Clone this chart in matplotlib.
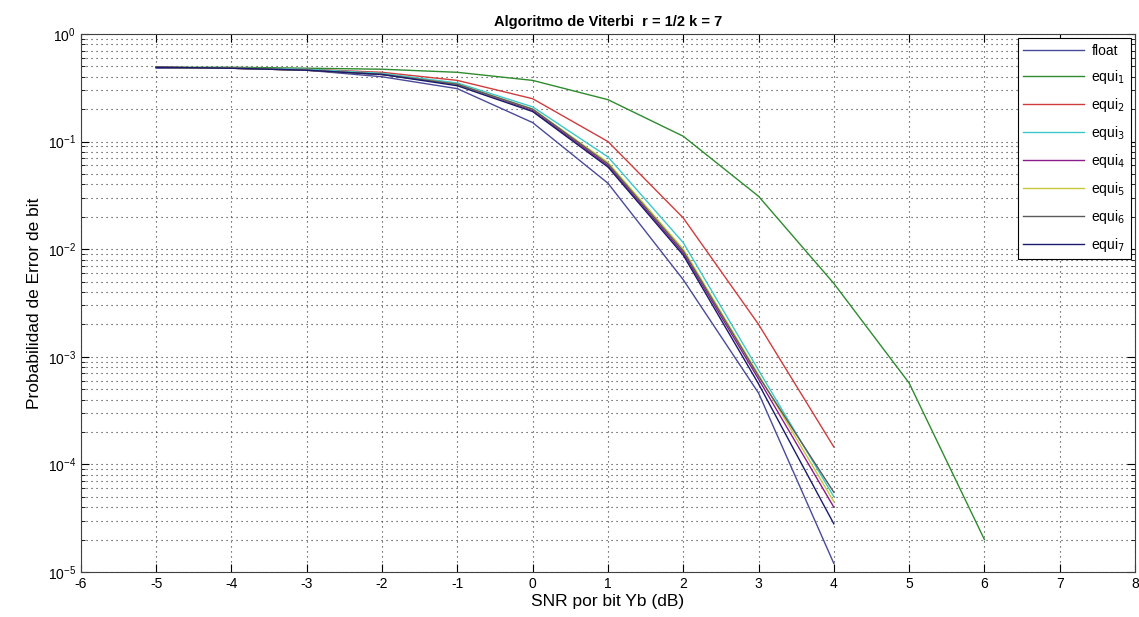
import matplotlib
matplotlib.use("Agg")
import matplotlib.pyplot as plt
from matplotlib.ticker import LogLocator, NullFormatter

plt.rcParams['font.family'] = ['Liberation Sans', 'DejaVu Sans']
plt.rcParams['axes.unicode_minus'] = False

# valeurs
snr = [-5, -4, -3, -2, -1, 0, 1, 2, 3, 4]
snr_equi1 = [-5, -4, -3, -2, -1, 0, 1, 2, 3, 4, 5, 6]

ber_float = [0.48, 0.48, 0.46, 0.40, 0.31, 0.15, 0.041, 0.0052, 4.6e-4, 1.2e-5]
ber_equi1 = [0.49, 0.49, 0.48, 0.47, 0.44, 0.37, 0.245, 0.112, 0.031, 0.0048, 5.7e-4, 2e-5]
ber_equi2 = [0.49, 0.48, 0.47, 0.44, 0.37, 0.25, 0.10, 0.0195, 0.002, 1.45e-4]
ber_equi3 = [0.49, 0.48, 0.47, 0.43, 0.35, 0.21, 0.072, 0.0115, 7.5e-4, 5e-5]
ber_equi4 = [0.49, 0.48, 0.46, 0.42, 0.34, 0.195, 0.060, 0.0092, 6.2e-4, 4e-5]
ber_equi5 = [0.49, 0.48, 0.46, 0.42, 0.34, 0.20, 0.064, 0.0100, 6.8e-4, 4.5e-5]
ber_equi6 = [0.49, 0.48, 0.46, 0.42, 0.34, 0.20, 0.062, 0.0096, 6.6e-4, 5.5e-5]
ber_equi7 = [0.49, 0.48, 0.46, 0.42, 0.33, 0.19, 0.058, 0.0088, 5.6e-4, 2.8e-5]

fig = plt.figure(figsize=(11.39, 6.17), dpi=100)
ax = fig.add_axes([0.071, 0.073, 0.9255, 0.872])

ax.semilogy(snr, ber_float, color="#4a4a9a", lw=1, label="float")
ax.semilogy(snr_equi1, ber_equi1, color="#2e8b2e", lw=1, label="equi$_1$")
ax.semilogy(snr, ber_equi2, color="#d03c3c", lw=1, label="equi$_2$")
ax.semilogy(snr, ber_equi3, color="#3cc8c8", lw=1, label="equi$_3$")
ax.semilogy(snr, ber_equi4, color="#8b1a8b", lw=1, label="equi$_4$")
ax.semilogy(snr, ber_equi5, color="#c8c83c", lw=1, label="equi$_5$")
ax.semilogy(snr, ber_equi6, color="#5a5a5a", lw=1, label="equi$_6$")
ax.semilogy(snr, ber_equi7, color="#1a1a6e", lw=1, label="equi$_7$")

ax.set_xlim(-6, 8)
ax.set_ylim(1e-5, 1)
ax.set_xticks(range(-6, 9))
ax.yaxis.set_major_locator(LogLocator(base=10, numticks=10))
ax.yaxis.set_minor_locator(LogLocator(base=10, subs=range(2, 10), numticks=20))
ax.yaxis.set_minor_formatter(NullFormatter())
ax.tick_params(which="both", direction="in", top=True, right=True, labelsize=10)
ax.tick_params(which="major", length=6)
ax.tick_params(which="minor", length=3)

ax.grid(True, which="major", linestyle=(0, (1, 3.5)), color="#333333", lw=0.8)
ax.grid(True, which="minor", axis="y", linestyle=(0, (1, 3.5)), color="#333333", lw=0.8)

ax.set_title("Algoritmo de Viterbi  r = 1/2 k = 7", fontsize=10.5, fontweight="bold")
ax.set_xlabel("SNR por bit Yb (dB)", fontsize=12.5, labelpad=2)
ax.set_ylabel("Probabilidad de Error de bit", fontsize=12.5)

leg = ax.legend(loc="upper right", fontsize=10, fancybox=False, framealpha=1,
                edgecolor="black", borderaxespad=0.3, handlelength=4.4,
                labelspacing=0.72, handletextpad=0.5)
leg.get_frame().set_linewidth(0.8)

for s in ax.spines.values():
    s.set_color("#404040")

fig.savefig("out.png", dpi=100)
